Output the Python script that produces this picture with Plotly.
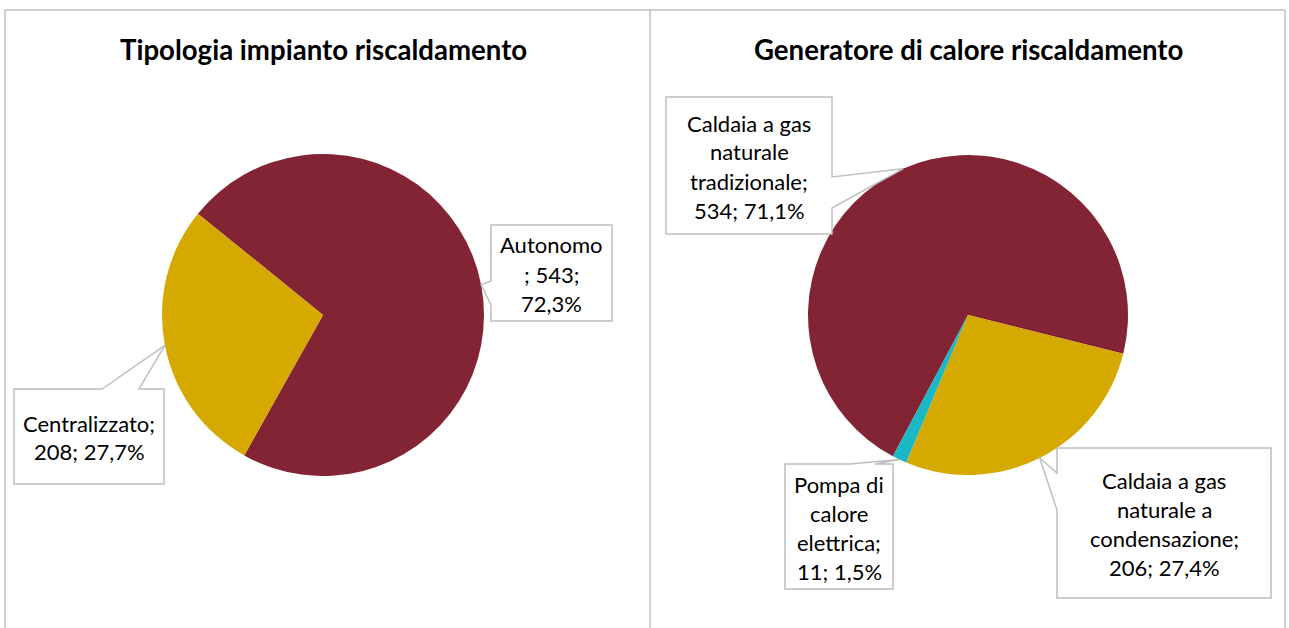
import math
import plotly.graph_objects as go

# ---------------- data ----------------
left_title = "Tipologia impianto riscaldamento"
left_categories = ["Autonomo", "Centralizzato"]
left_values = [543, 208]

right_title = "Generatore di calore riscaldamento"
right_categories = ["Caldaia a gas naturale tradizionale",
                    "Caldaia a gas naturale a condensazione",
                    "Pompa di calore elettrica"]
right_values = [534, 206, 11]

# ---------------- style / layout ----------------
W, H = 1289, 628
FONT = "Lato"
MAROON, GOLD, TEAL = "#832434", "#D6A900", "#1AB8C4"
GRAY = "#BFBFBF"
left_colors = [MAROON, GOLD]
right_colors = [MAROON, GOLD, TEAL]

LEFT_PIE = dict(cx=323, cy=315, r=161, rotation=309)
RIGHT_PIE = dict(cx=968, cy=315, r=160, rotation=208)

# name wrapping by word counts (None: narrow box, separator wraps)
left_wraps = [None, [1]]
right_wraps = [[3, 1, 1], [3, 2, 1], [2, 1, 1]]

# callout boxes in pixels: (x0, y0, x1, y1), side, base1, base2
left_boxes = [((491, 225, 612, 321), "left", 281, 305),
              ((14, 389, 164, 484), "top", 102, 139)]
right_boxes = [((666, 97, 832, 234), "right", 177, 208),
               ((1057, 448, 1271, 598), "left", 473, 510),
               ((785, 464, 893, 589), "top", 850, 875)]
LINE_SP = 29
LABEL_SIZE = 22
TITLE_SIZE = 27.6


def X(px):
    return px / W


def Y(py):
    return 1 - py / H


def pct(v, total):
    return f"{100 * v / total:.1f}".replace(".", ",") + "%"


def label_lines(name, v, total, wrap):
    p = pct(v, total)
    if wrap is None:
        return [name, f"; {v};", p]
    words = name.split()
    lines, i = [], 0
    for n in wrap:
        lines.append(" ".join(words[i:i + n]))
        i += n
    lines[-1] += ";"
    lines.append(f"{v}; {p}")
    return lines


def tips(values, pie):
    total = sum(values)
    out, cum = [], 0
    for v in values:
        a = math.radians(pie["rotation"] + 360 * (cum + v / 2) / total)
        out.append((pie["cx"] + pie["r"] * math.sin(a), pie["cy"] - pie["r"] * math.cos(a)))
        cum += v
    return out


def callout_path(box, side, b1, b2, tip):
    x0, y0, x1, y1 = box
    pts = [(x0, y0)]
    if side == "top":
        pts += [(b1, y0), tip, (b2, y0)]
    pts.append((x1, y0))
    if side == "right":
        pts += [(x1, b1), tip, (x1, b2)]
    pts.append((x1, y1))
    pts.append((x0, y1))
    if side == "left":
        pts += [(x0, b2), tip, (x0, b1)]
    return "M " + " L ".join(f"{X(a):.5f},{Y(b):.5f}" for a, b in pts) + " Z"


fig = go.Figure()
shapes, annotations = [], []


def add_pie(categories, values, colors, pie, boxes, wraps, title, title_x):
    fig.add_trace(go.Pie(
        labels=categories, values=values, sort=False, direction="clockwise",
        rotation=pie["rotation"], textinfo="none", hoverinfo="label+value+percent",
        marker=dict(colors=colors, line=dict(width=0)), showlegend=False,
        domain=dict(x=[X(pie["cx"] - pie["r"]), X(pie["cx"] + pie["r"])],
                    y=[Y(pie["cy"] + pie["r"]), Y(pie["cy"] - pie["r"])]),
    ))
    total = sum(values)
    for name, v, (box, side, b1, b2), tip, wrap in zip(categories, values, boxes, tips(values, pie), wraps):
        shapes.append(dict(type="path", path=callout_path(box, side, b1, b2, tip),
                           xref="paper", yref="paper", fillcolor="white",
                           line=dict(color=GRAY, width=1.5)))
        lines = label_lines(name, v, total, wrap)
        cx = (box[0] + box[2]) / 2
        cy = (box[1] + box[3]) / 2 + 1
        n = len(lines)
        for k, t in enumerate(lines):
            ly = cy + (k - (n - 1) / 2) * LINE_SP
            annotations.append(dict(text=t, x=X(cx), y=Y(ly), xref="paper", yref="paper",
                                    xanchor="center", yanchor="middle", showarrow=False,
                                    font=dict(family=FONT, size=LABEL_SIZE, color="#000000")))
    annotations.append(dict(text=f"<b>{title}</b>", x=X(title_x), y=Y(50), xref="paper", yref="paper",
                            xanchor="center", yanchor="middle", showarrow=False,
                            font=dict(family=FONT, size=TITLE_SIZE, color="#000000")))


add_pie(left_categories, left_values, left_colors, LEFT_PIE, left_boxes, left_wraps, left_title, 323)
add_pie(right_categories, right_values, right_colors, RIGHT_PIE, right_boxes, right_wraps, right_title, 968)

# panel frames
for (xa, ya, xb, yb) in [(5, 10, 1285, 10), (5, 10, 5, 628), (650, 10, 650, 628), (1285, 10, 1285, 628)]:
    shapes.append(dict(type="line", x0=X(xa), y0=Y(ya), x1=X(xb), y1=Y(yb),
                       xref="paper", yref="paper", line=dict(color=GRAY, width=1.5)))

fig.update_layout(
    width=W, height=H, margin=dict(l=0, r=0, t=0, b=0),
    paper_bgcolor="white", plot_bgcolor="white",
    shapes=shapes, annotations=annotations,
    font=dict(family=FONT),
)

fig.write_html("out.html", config={"displayModeBar": False},
               post_script="document.body.style.margin='0';document.body.style.overflow='hidden';")
